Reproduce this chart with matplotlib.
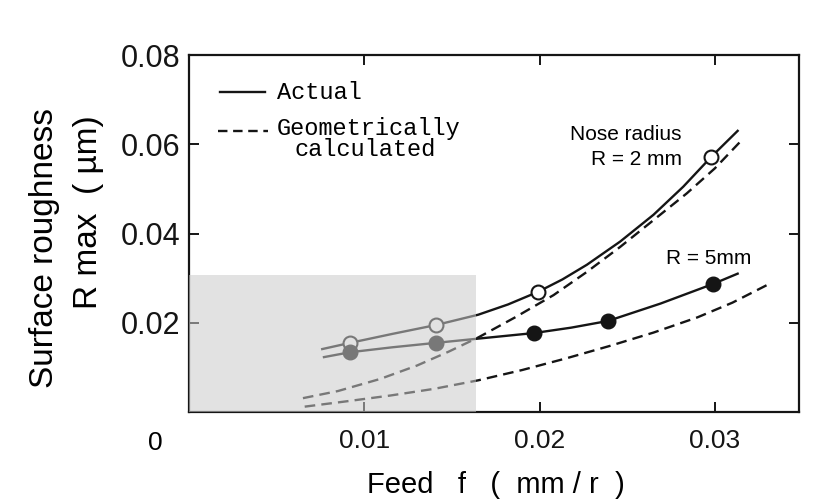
import matplotlib
matplotlib.use("Agg")
import matplotlib.pyplot as plt
from matplotlib.patches import Rectangle
from matplotlib.lines import Line2D

INK = "#151515"
plt.rcParams.update({
    "font.family": ["Liberation Sans", "DejaVu Sans"],
    "axes.linewidth": 1.6, "axes.edgecolor": INK,
    "xtick.color": INK, "ytick.color": INK,
})

# measured points (feed mm/r, Rmax um)
r2_feed = [0.0092, 0.0141, 0.0199, 0.0298]
r2_rmax = [0.0155, 0.0195, 0.0269, 0.0572]
r5_feed = [0.0092, 0.0141, 0.0197, 0.0239, 0.0299]
r5_rmax = [0.0134, 0.0155, 0.0177, 0.0204, 0.0287]

# actual curves
r2_act_x = [0.0076, 0.0092, 0.0116, 0.0141, 0.0165, 0.0182, 0.0199, 0.0213,
            0.0227, 0.0246, 0.0265, 0.0282, 0.0298, 0.0313]
r2_act_y = [0.0141, 0.0155, 0.0175, 0.0195, 0.0218, 0.0241, 0.0269, 0.0297,
            0.0330, 0.0382, 0.0442, 0.0505, 0.0572, 0.0630]
r5_act_x = [0.0077, 0.0092, 0.0116, 0.0141, 0.0169, 0.0197, 0.0218, 0.0239,
            0.0269, 0.0299, 0.0313]
r5_act_y = [0.0123, 0.0134, 0.0145, 0.0155, 0.0166, 0.0177, 0.0189, 0.0204,
            0.0243, 0.0287, 0.0310]

# geometrically calculated curves
r2_geo_x = [0.0065, 0.0085, 0.0109, 0.0130, 0.0148, 0.0165, 0.0186, 0.0208,
            0.0227, 0.0246, 0.0265, 0.0284, 0.0300, 0.0316]
r2_geo_y = [0.0031, 0.0047, 0.0074, 0.0104, 0.0135, 0.0167, 0.0212, 0.0262,
            0.0314, 0.0370, 0.0430, 0.0490, 0.0546, 0.0612]
r5_geo_x = [0.0066, 0.0090, 0.0115, 0.0140, 0.0165, 0.0190, 0.0215, 0.0240,
            0.0265, 0.0290, 0.0310, 0.0330]
r5_geo_y = [0.0012, 0.0024, 0.0037, 0.0052, 0.0071, 0.0094, 0.0120, 0.0148,
            0.0178, 0.0212, 0.0245, 0.0285]

fig = plt.figure(figsize=(8.24, 5.0), dpi=100)
ax = fig.add_axes([189 / 824, 88 / 500, 610 / 824, 357 / 500])

dash = (0, (4.5, 2.6))
ax.plot(r2_act_x, r2_act_y, color=INK, lw=1.7, zorder=3)
ax.plot(r5_act_x, r5_act_y, color=INK, lw=1.7, zorder=3)
ax.plot(r2_geo_x, r2_geo_y, color=INK, lw=1.7, ls=dash, zorder=3)
ax.plot(r5_geo_x, r5_geo_y, color=INK, lw=1.7, ls=dash, zorder=3)
ax.plot(r2_feed, r2_rmax, "o", ms=10, mfc="white", mec=INK, mew=1.5, zorder=4)
ax.plot(r5_feed, r5_rmax, "o", ms=10.5, mfc=INK, mec=INK, zorder=4)

# grey shaded zone (drawn over the lines so they look greyed)
ax.add_patch(Rectangle((0, 0), 0.0164, 0.0307, facecolor="#cbcbcb",
                       edgecolor="none", alpha=0.55, zorder=5))

ax.set_xlim(0, 0.0348)
ax.set_ylim(0, 0.08)
ax.set_xticks([0.01, 0.02, 0.03])
ax.set_xticklabels(["0.01", "0.02", "0.03"])
ax.set_yticks([0.02, 0.04, 0.06, 0.08])
ax.set_yticklabels(["0.02", "0.04", "0.06", "0.08"])
ax.tick_params(direction="in", top=True, right=True, length=7, width=1.4)
ax.tick_params(axis="x", labelsize=19, pad=12)
ax.tick_params(axis="y", labelsize=22, pad=6)

ax.annotate("0", xy=(0, 0), xycoords="data", xytext=(-24, -22),
            textcoords="offset points", ha="center", va="center", fontsize=19)

fig.text(45 / 824, 1 - 248 / 500, "Surface roughness", rotation=90,
         ha="center", va="center", fontsize=24)
fig.text(88 / 824, 1 - 212 / 500, "R max  ( \u00b5m)", rotation=90,
         ha="center", va="center", fontsize=24)
fig.text(496 / 824, 1 - 485 / 500, "Feed   f   (  mm / r  )",
         ha="center", va="center", fontsize=21)

# labels on curves
ax.text(0.0281, 0.0622, "Nose radius", ha="right", va="center", fontsize=15)
ax.text(0.0281, 0.0566, "R = 2 mm", ha="right", va="center", fontsize=15)
ax.text(0.0321, 0.0345, "R = 5mm", ha="right", va="center", fontsize=15)

# legend drawn by hand
mono = ["Liberation Mono", "DejaVu Sans Mono"]
ax.add_line(Line2D([0.051, 0.125], [0.896, 0.896], transform=ax.transAxes,
                   color=INK, lw=1.7))
ax.add_line(Line2D([0.047, 0.13], [0.787, 0.787], transform=ax.transAxes,
                   color=INK, lw=1.7, ls=(0, (4.0, 2.4))))
ax.text(0.144, 0.896, "Actual", transform=ax.transAxes, family=mono,
        fontsize=17, va="center", ha="left")
ax.text(0.144, 0.795, "Geometrically", transform=ax.transAxes, family=mono,
        fontsize=17, va="center", ha="left")
ax.text(0.288, 0.734, "calculated", transform=ax.transAxes, family=mono,
        fontsize=17, va="center", ha="center")

fig.savefig("out.png", dpi=100, facecolor="white")
